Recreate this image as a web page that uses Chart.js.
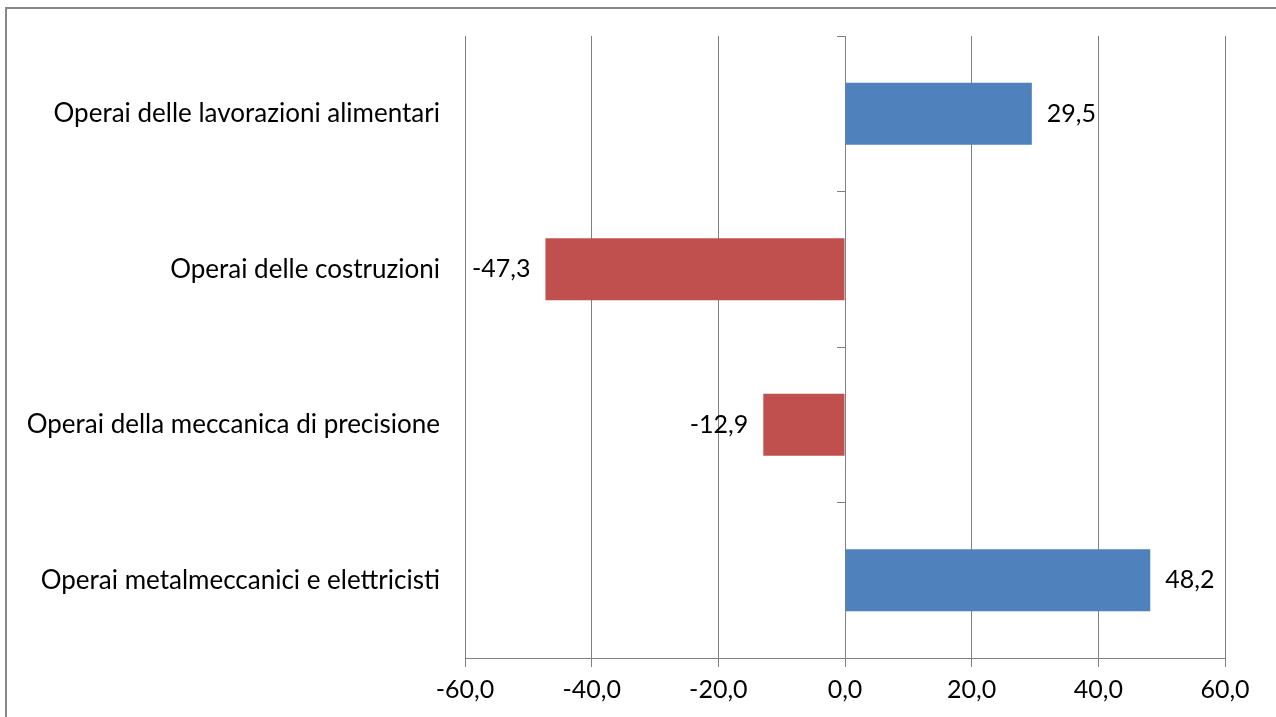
<!DOCTYPE html>
<html>
<head>
<meta charset="utf-8">
<script src="https://cdn.jsdelivr.net/npm/chart.js@4"></script>
<style>
  html, body { margin: 0; padding: 0; background: #fff; }
  #wrap { width: 1276px; height: 717px; position: relative; }
</style>
</head>
<body>
<div id="wrap"><canvas id="barChart" width="1276" height="717"></canvas></div>
<script>
// dati del grafico
const categories = [
    'Operai delle lavorazioni alimentari',
    'Operai delle costruzioni',
    'Operai della meccanica di precisione',
    'Operai metalmeccanici e elettricisti'
];
const values = [29.5, -47.3, -12.9, 48.2];
const xTicks = [-60, -40, -20, 0, 20, 40, 60];

const BLUE = '#4F81BD';
const RED = '#C0504D';
const GRID = '#808080';
const FONT = 'Lato, "Liberation Sans", sans-serif';

function fmt(v) {
    return v.toFixed(1).replace('.', ',');
}

// etichette accanto alle barre
const valueLabels = {
    id: 'valueLabels',
    afterDatasetsDraw(chart) {
        const ctx = chart.ctx;
        const meta = chart.getDatasetMeta(0);
        ctx.save();
        ctx.font = '25px ' + FONT;
        ctx.fillStyle = '#000';
        ctx.textBaseline = 'middle';
        meta.data.forEach((bar, i) => {
            const v = values[i];
            if (v >= 0) {
                ctx.textAlign = 'left';
                ctx.fillText(fmt(v), bar.x + 15, bar.y);
            } else {
                ctx.textAlign = 'right';
                ctx.fillText(fmt(v), bar.x - 15, bar.y);
            }
        });
        ctx.restore();
    }
};

// cornice esterna
const frame = {
    id: 'frame',
    afterDraw(chart) {
        const ctx = chart.ctx;
        ctx.save();
        ctx.strokeStyle = '#888';
        ctx.lineWidth = 2;
        ctx.strokeRect(6, 8, 1276, 720);
        ctx.restore();
    }
};

new Chart(document.getElementById('barChart').getContext('2d'), {
    type: 'bar',
    data: {
        labels: categories,
        datasets: [{
            data: values,
            backgroundColor: values.map(v => v >= 0 ? BLUE : RED),
            borderWidth: 0,
            barPercentage: 0.4,
            categoryPercentage: 1
        }]
    },
    options: {
        indexAxis: 'y',
        responsive: false,
        animation: false,
        layout: { padding: { left: 0, right: 51, top: 36, bottom: 0 } },
        plugins: {
            legend: { display: false },
            tooltip: { enabled: false }
        },
        scales: {
            x: {
                min: -60,
                max: 60,
                afterBuildTicks: (scale) => { scale.ticks = xTicks.map(v => ({ value: v })); },
                afterFit: (scale) => { scale.height = 59; },
                grid: { color: GRID, lineWidth: 1, tickLength: 9, tickColor: GRID },
                border: { color: GRID, width: 1 },
                ticks: {
                    color: '#000',
                    font: { family: FONT, size: 25 },
                    padding: 8,
                    maxRotation: 0,
                    callback: (v) => fmt(v)
                }
            },
            y: {
                afterFit: (scale) => { scale.width = 465; },
                grid: { display: false },
                border: { display: false },
                ticks: {
                    color: '#000',
                    font: { family: FONT, size: 26 },
                    padding: 17
                }
            },
            y0: {
                type: 'category',
                axis: 'y',
                position: { x: 0 },
                offset: true,
                grid: { offset: true, drawOnChartArea: false, tickLength: 8, color: GRID, tickColor: GRID },
                border: { color: GRID, width: 1 },
                ticks: { display: false }
            }
        }
    },
    plugins: [valueLabels, frame]
});
</script>
</body>
</html>
